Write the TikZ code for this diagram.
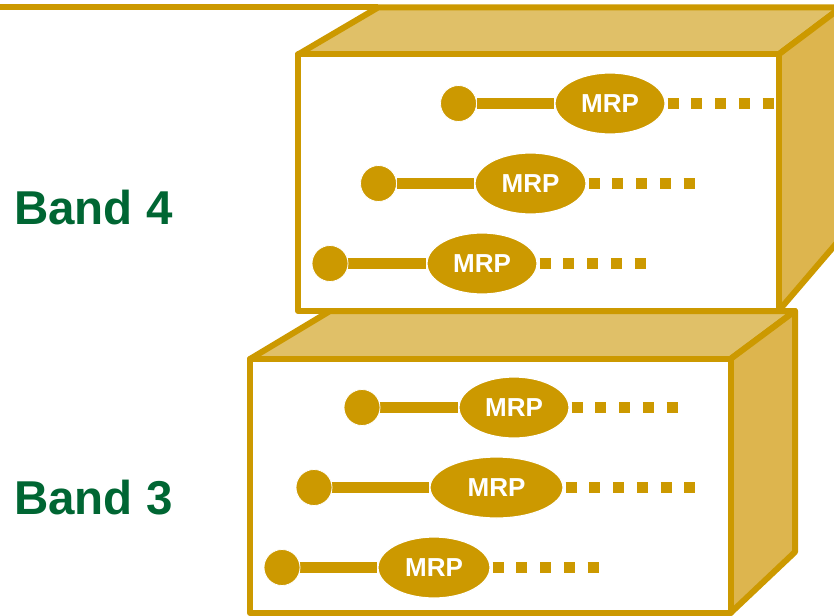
\documentclass[tikz,border=0pt]{standalone}
\usepackage{fontspec}
\setmainfont{Liberation Sans}
\usetikzlibrary{shapes.geometric,calc}

\definecolor{gold}{HTML}{CC9900}
\definecolor{topface}{HTML}{E0C068}
\definecolor{sideface}{HTML}{DDB54E}
\definecolor{bandgreen}{HTML}{006633}

\pgfdeclarelayer{boxes}
\pgfdeclarelayer{links}
\pgfsetlayers{boxes,links,main}

\tikzset{
  edge/.style={draw=gold, line width=6pt, line join=round},
  port/.style={circle, fill=gold, draw=white, line width=0.8pt,
    minimum size=36pt, inner sep=0pt},
  mrp/.style={ellipse, fill=gold, draw=white, line width=1.2pt,
    minimum width=110pt, minimum height=61pt, inner sep=0pt, text=white,
    font=\fontsize{26}{28}\selectfont\bfseries},
  link/.style={draw=gold, line width=11.5pt},
  dots/.style={draw=gold, line width=11.5pt, dash pattern=on 11pt off 12.75pt},
  band/.style={text=bandgreen, font=\fontsize{47.5}{50}\selectfont\bfseries,
    inner sep=0pt, anchor=base west},
}

% one port: id, y, port x, MRP x, MRP width, length of the dotted run
\newcommand\mrprow[6]{%
  \node[port] (c#1) at (#3,#2) {};
  \node[mrp, minimum width=#5pt] (e#1) at (#4,#2) {MRP};
  \coordinate (t#1) at ($(e#1.east)+(#6,0)$);
  \begin{pgfonlayer}{links}
    \draw[link] (c#1) -- (e#1);
  \end{pgfonlayer}
  \draw[dots, shorten <=2pt] (e#1.east) -- (t#1);
}

\begin{document}
\begin{tikzpicture}[x=1pt, y=-1pt]
  \useasboundingbox (0,0) rectangle (834,615);
  \clip (0,0) rectangle (834,615);

  \begin{pgfonlayer}{boxes}
    % lower block (Band 3)
    \draw[edge, fill=topface] (250,359) -- (330,311) -- (795,311) -- (730.5,359) -- cycle;
    \draw[edge, fill=sideface] (730.5,359) -- (795,311) -- (795,552) -- (730.5,613) -- cycle;
    \draw[edge, fill=white] (250,359) rectangle (730.5,613);
    % upper block (Band 4)
    \draw[edge] (0,7.5) -- (378,7.5);
    \draw[edge, fill=topface] (298,54.5) -- (378,7.5) -- (841,7.5) -- (778.5,54.5) -- cycle;
    \draw[edge, fill=sideface] (778.5,54.5) -- (841,7.5) -- (841,238) -- (778.5,311) -- cycle;
    \draw[edge, fill=white] (298,54.5) rectangle (778.5,311);
  \end{pgfonlayer}

  \node[band] (b4) at (14,224) {Band 4};
  \node[band] (b3) at (14,514) {Band 3};

  \mrprow{1}{103.5}{458.5}{610}{110}{108}
  \mrprow{2}{183.5}{378.5}{530.5}{111}{108}
  \mrprow{3}{263.5}{330}{482}{110}{108}
  \mrprow{4}{407.5}{362}{514}{110}{108}
  \mrprow{5}{487.5}{314}{496.5}{133}{132}
  \mrprow{6}{567.5}{282}{434}{112}{108}
\end{tikzpicture}
\end{document}
